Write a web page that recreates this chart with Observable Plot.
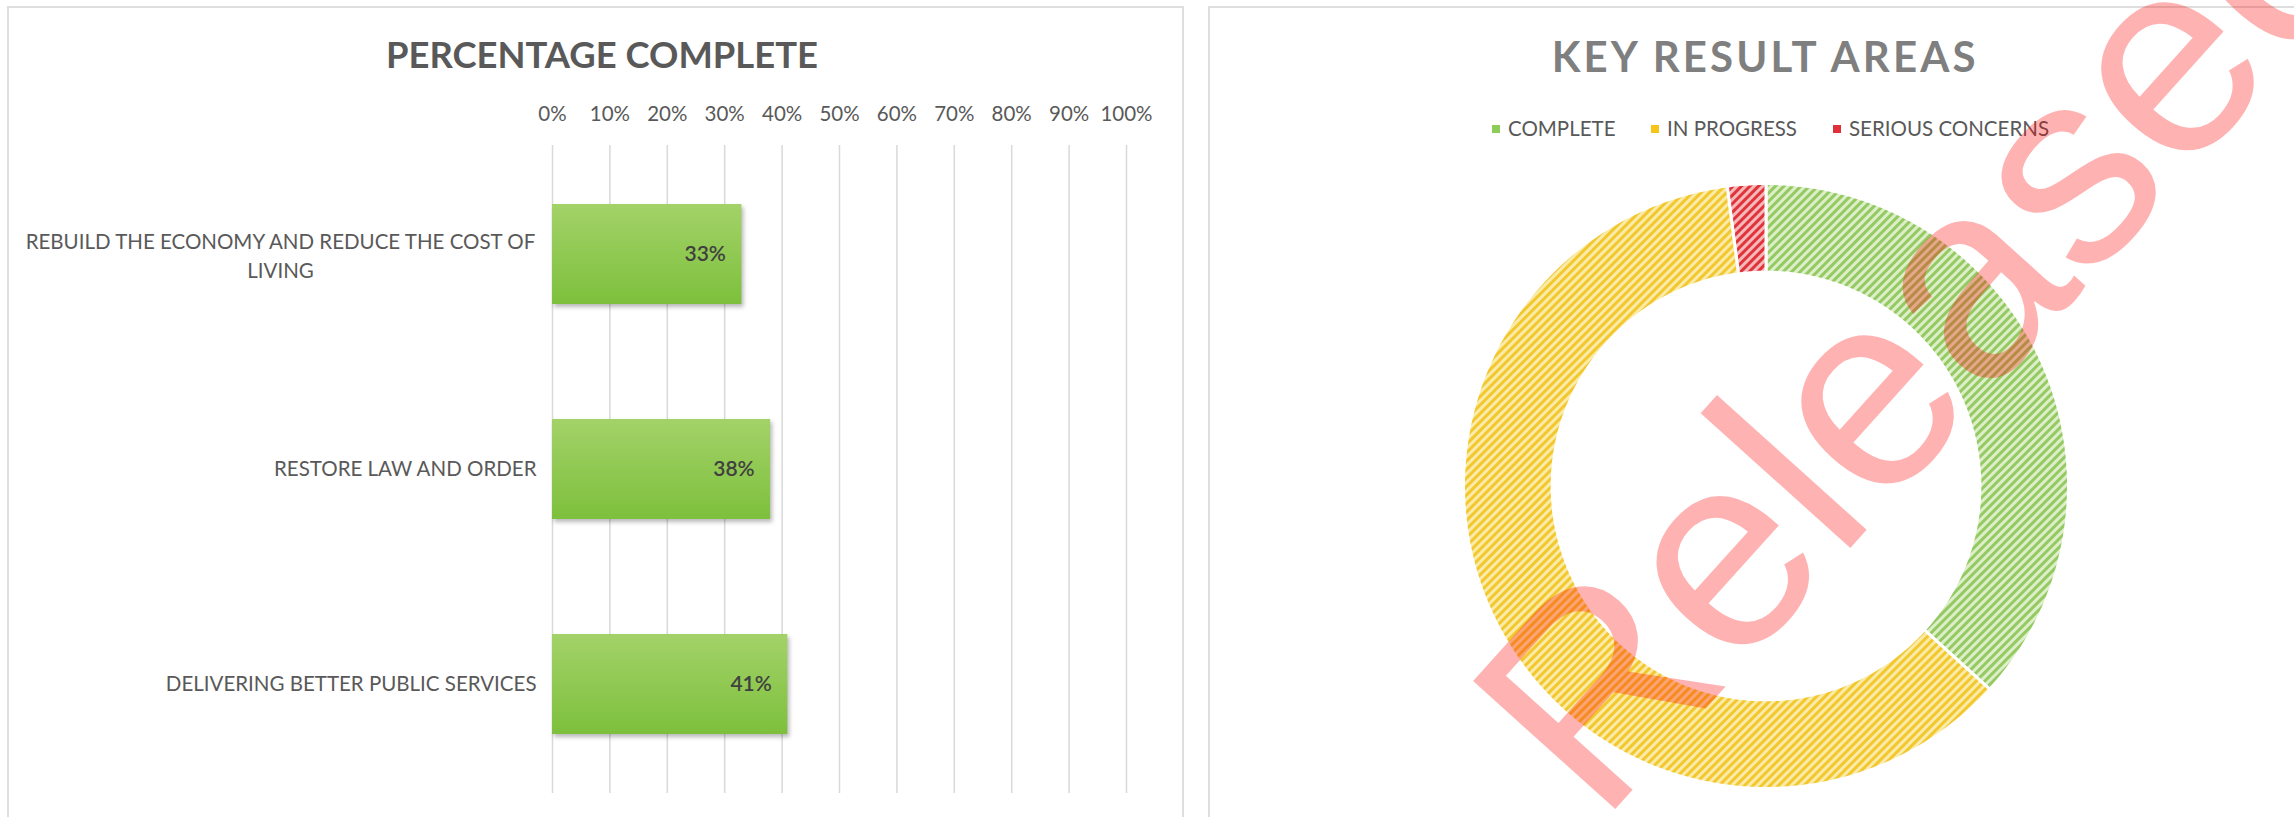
<!DOCTYPE html>
<html>
<head>
<meta charset="utf-8">
<script src="https://cdn.jsdelivr.net/npm/d3@7"></script>
<script src="https://cdn.jsdelivr.net/npm/@observablehq/plot@0.6"></script>
<style>
html, body { margin: 0; padding: 0; background: #fff; width: 2294px; height: 817px; overflow: hidden; font-family: Lato, sans-serif; }
.panel { position: absolute; border: 2px solid #dedede; border-bottom: none; box-sizing: border-box; }
.abs { position: absolute; }
.title { position: absolute; text-align: center; font-weight: 700; line-height: 1; white-space: nowrap; }
.legend-item { position: absolute; font-size: 20.5px; line-height: 1; color: #595959; white-space: nowrap; }
.swatch { position: absolute; width: 8px; height: 8px; }
.bars rect { filter: drop-shadow(2px 3px 2px rgba(0,0,0,0.28)); }
</style>
</head>
<body>
<svg width="0" height="0" style="position:absolute">
  <defs>
    <linearGradient id="barGrad" x1="0" y1="0" x2="0" y2="1">
      <stop offset="0" stop-color="#a3d269"/>
      <stop offset="1" stop-color="#7dc03c"/>
    </linearGradient>
    <pattern id="hatchGreen" patternUnits="userSpaceOnUse" width="6" height="6" patternTransform="rotate(45)">
      <rect width="6" height="6" fill="#dcefc9"/>
      <rect width="3" height="6" fill="#95c962"/>
    </pattern>
    <pattern id="hatchYellow" patternUnits="userSpaceOnUse" width="6" height="6" patternTransform="rotate(45)">
      <rect width="6" height="6" fill="#fbeba8"/>
      <rect width="3" height="6" fill="#f3c72e"/>
    </pattern>
    <pattern id="hatchRed" patternUnits="userSpaceOnUse" width="6" height="6" patternTransform="rotate(45)">
      <rect width="6" height="6" fill="#f5b9b9"/>
      <rect width="3" height="6" fill="#e0343c"/>
    </pattern>
  </defs>
</svg>

<div class="panel" style="left:7px; top:6px; width:1177px; height:811px;"></div>
<div class="panel" style="left:1208px; top:6px; width:1100px; height:811px; border-right:none;"></div>

<div id="leftChart" class="abs" style="left:0; top:0;"></div>
<div id="donut" class="abs" style="left:1457.5px; top:178px;"></div>

<div class="title" style="left:302px; width:600px; top:35.8px; font-size:36.4px; color:#595959;">PERCENTAGE COMPLETE</div>
<div class="title" style="left:1462px; width:600px; top:34.9px; font-size:42px; color:#7f7f7f; letter-spacing:3.1px; padding-left:3.1px;">KEY RESULT AREAS</div>
<div id="legend"></div>

<svg class="abs" style="left:0; top:0; pointer-events:none;" width="2294" height="817">
  <text x="1600" y="826" transform="rotate(-48 1600 826)" font-family="Liberation Sans, Arial, sans-serif" font-size="278" fill="#ff0000" fill-opacity="0.3">Released</text>
</svg>

<script>
// ---- Data ----
const categories = [
  "REBUILD THE ECONOMY AND REDUCE THE COST OF LIVING",
  "RESTORE LAW AND ORDER",
  "DELIVERING BETTER PUBLIC SERVICES"
];
const categoryLabels = [
  "REBUILD THE ECONOMY AND REDUCE THE COST OF\nLIVING",
  "RESTORE LAW AND ORDER",
  "DELIVERING BETTER PUBLIC SERVICES"
];
const percentComplete = [0.33, 0.38, 0.41];
const xTickValues = [0, 0.1, 0.2, 0.3, 0.4, 0.5, 0.6, 0.7, 0.8, 0.9, 1.0];

const kraStatus = ["COMPLETE", "IN PROGRESS", "SERIOUS CONCERNS"];
const kraCounts = [18, 30, 1];
const kraPatterns = ["url(#hatchGreen)", "url(#hatchYellow)", "url(#hatchRed)"];
const kraSwatch = ["#8fcb58", "#f5c518", "#e0303a"];

// ---- Left: bar chart ----
const barData = categories.map((c, i) => ({
  category: c,
  label: categoryLabels[i],
  value: percentComplete[i],
  lines: categoryLabels[i].split("\n").length
}));
const pct = d3.format(".0%");

const left = Plot.plot({
  width: 1190,
  height: 817,
  marginLeft: 552,
  marginRight: 64,
  marginTop: 145,
  marginBottom: 24,
  style: {fontFamily: "Lato, sans-serif", fontSize: "20.5px", color: "#595959", background: "transparent", overflow: "visible"},
  x: {domain: [0, 1], axis: null, label: null},
  y: {domain: categories, paddingInner: 0.533, paddingOuter: 0.267, axis: null, label: null},
  marks: [
    Plot.gridX(xTickValues, {stroke: "#d9d9d9", strokeOpacity: 1, strokeWidth: 1.5}),
    Plot.axisX(xTickValues, {anchor: "top", label: null, tickSize: 0, tickPadding: 25, tickFormat: pct, fill: "#595959"}),
    Plot.barX(barData, {x: "value", y: "category", fill: "url(#barGrad)", className: "bars"}),
    Plot.text(barData, {x: "value", y: "category", text: d => pct(d.value), textAnchor: "end", dx: -16, fill: "#404040", fontSize: 21, fontWeight: 600}),
    Plot.text(barData.filter(d => d.lines === 1), {x: 0, y: "category", text: "label", textAnchor: "end", dx: -16, fill: "#595959"}),
    Plot.text(barData.filter(d => d.lines > 1), {x: 0, y: "category", text: "label", textAnchor: "middle", dx: -272, lineHeight: 1.41, fill: "#595959"})
  ]
});
document.getElementById("leftChart").appendChild(left);

// ---- Right: donut ----
const total = d3.sum(kraCounts);
const innerRatio = 0.707;
let acc = 0;
const slices = kraStatus.map((s, i) => {
  const a0 = acc / total * 2 * Math.PI;
  acc += kraCounts[i];
  const a1 = acc / total * 2 * Math.PI;
  const n = Math.max(2, Math.ceil((a1 - a0) / (Math.PI / 360)));
  const pts = [];
  for (let k = 0; k <= n; k++) {
    const a = a0 + (a1 - a0) * k / n;
    pts.push({status: s, x: Math.sin(a), y: Math.cos(a)});
  }
  for (let k = n; k >= 0; k--) {
    const a = a0 + (a1 - a0) * k / n;
    pts.push({status: s, x: innerRatio * Math.sin(a), y: innerRatio * Math.cos(a)});
  }
  return {status: s, pattern: kraPatterns[i], pts};
});

const donut = Plot.plot({
  width: 615,
  height: 615,
  margin: 5,
  style: {background: "transparent", overflow: "visible"},
  x: {domain: [-1, 1], axis: null, label: null},
  y: {domain: [-1, 1], axis: null, label: null},
  marks: slices.map(s => Plot.line(s.pts, {x: "x", y: "y", curve: "linear-closed", fill: s.pattern, stroke: "white", strokeWidth: 3}))
});
document.getElementById("donut").appendChild(donut);

// ---- Legend ----
const legendX = [1492, 1651, 1833];
const legend = document.getElementById("legend");
kraStatus.forEach((s, i) => {
  const sw = document.createElement("div");
  sw.className = "swatch";
  sw.style.left = legendX[i] + "px";
  sw.style.top = "125px";
  sw.style.background = kraSwatch[i];
  legend.appendChild(sw);
  const t = document.createElement("div");
  t.className = "legend-item";
  t.style.left = (legendX[i] + 16) + "px";
  t.style.top = "118px";
  t.textContent = s;
  legend.appendChild(t);
});
</script>
</body>
</html>
